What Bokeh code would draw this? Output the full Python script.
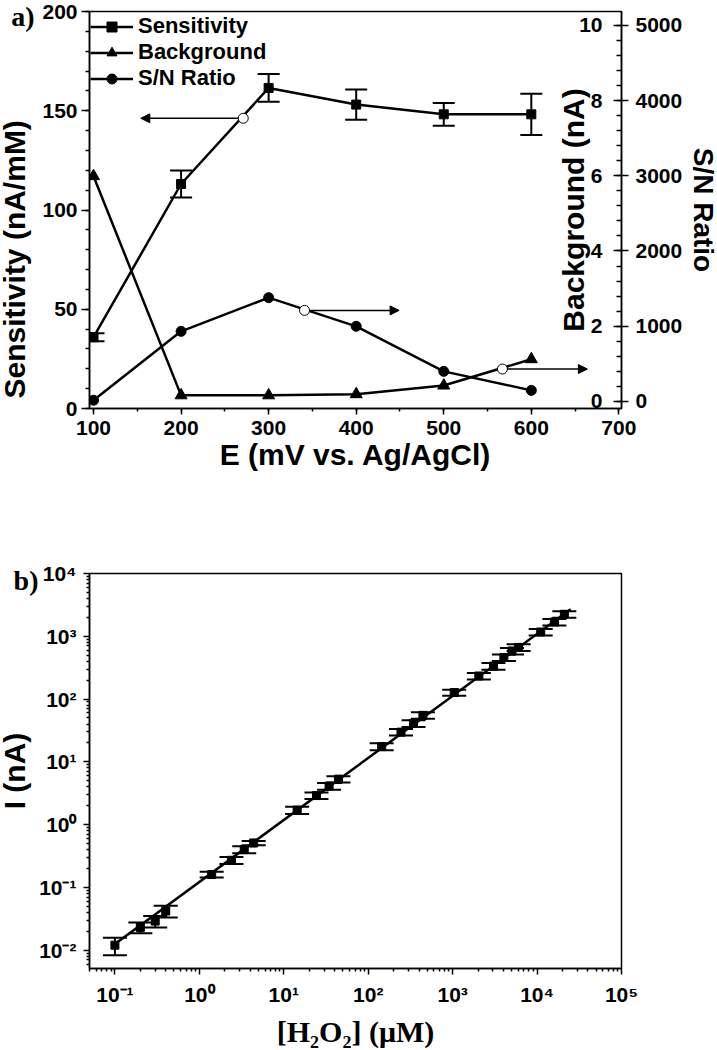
import math
from bokeh.plotting import figure
from bokeh.models import (Range1d, LinearAxis, SingleIntervalTicker, FixedTicker, Whisker, TeeHead,
                          ColumnDataSource, Legend, LegendItem, Arrow, NormalHead, Title,
                          CustomJSTickFormatter)
from bokeh.layouts import column
from bokeh.core.properties import value
from bokeh.embed import file_html
from bokeh.resources import INLINE

# ---------------- Panel a data ----------------
potential = [100, 200, 300, 400, 500, 600]            # mV vs Ag/AgCl
sensitivity = [35.9, 113.1, 161.5, 153.1, 148.2, 148.2]  # nA/mM
sensitivity_err = [2.0, 6.8, 7.0, 7.6, 5.7, 10.4]
background = [5.99, 0.16, 0.16, 0.19, 0.42, 1.12]      # nA
sn_ratio = [15, 931, 1379, 998, 399, 146]

# axis-pointer circles and arrow ends (x of circle, y, x of arrow tip)
sens_pointer = [271, 146.2, 154]
sn_pointer = [341, 1210, 449]
bg_pointer = [567, 0.86, 664]

bg_ticks = [0, 2, 4, 6, 8, 10]

# ---------------- Panel b data ----------------
conc = [0.1, 0.2, 0.3, 0.4, 1.4, 2.4, 3.4, 4.4, 14.4, 24.4, 34.4, 44.4,
        144.4, 244.4, 344.4, 444.4, 1044, 2044, 3044, 4044, 5044, 6044,
        11044, 16044, 21044]                              # uM
current = [0.012, 0.023, 0.029, 0.042, 0.16, 0.27, 0.40, 0.51, 1.7, 2.9, 4.1, 5.3,
           17.5, 29.7, 41, 55, 127, 233, 334, 459, 583, 665, 1170, 1690, 2240]  # nA
current_err = [0.0037, 0.0045, 0.006, 0.009, 0.017, 0.035, 0.05, 0.04, 0.22, 0.35, 0.5, 0.6,
               2.2, 3.5, 5, 6.5, 14, 28, 40, 55, 70, 80, 140, 200, 270]
fit_conc = [0.1, 25000]
fit_current = [0.0125, 2700]

FONT = "Liberation Sans"
SERIF = "Liberation Serif"
BLACK = "#000000"


def style_axis(ax, tick_font="21px"):
    ax.axis_line_width = 1.5
    ax.axis_line_color = BLACK
    ax.major_tick_line_width = 1.5
    ax.minor_tick_line_width = 1.5
    ax.major_tick_line_color = BLACK
    ax.minor_tick_line_color = BLACK
    ax.major_label_text_font = FONT
    ax.major_label_text_font_style = "bold"
    ax.major_label_text_font_size = tick_font
    ax.major_label_text_color = BLACK
    ax.axis_label_text_font = FONT
    ax.axis_label_text_font_style = "bold"
    ax.axis_label_text_font_size = "30px"
    ax.axis_label_text_color = BLACK


def side_title(text, size, font=FONT, **kw):
    return Title(text=text, text_font=font, text_font_style="bold", text_font_size=size,
                 text_color=BLACK, **kw)


def spacer_axis(width, tick):
    # invisible axis (one hidden tick, empty label) used only to leave room between side panels
    return LinearAxis(ticker=FixedTicker(ticks=[tick], minor_ticks=[]),
                      formatter=CustomJSTickFormatter(code='return "";'),
                      axis_line_color=None, major_tick_line_color=None, minor_tick_line_color=None,
                      major_tick_out=width, major_tick_in=0, minor_tick_out=0,
                      major_label_standoff=0)


def panel_tag_axis(text, tick, standoff):
    # invisible axis whose single tick label is the panel tag ("a)" / "b)")
    return LinearAxis(ticker=FixedTicker(ticks=[tick], minor_ticks=[]),
                      formatter=CustomJSTickFormatter(code='return "%s";' % text),
                      axis_line_color=None, major_tick_line_color=None, minor_tick_line_color=None,
                      major_tick_out=0, major_tick_in=0, minor_tick_out=0,
                      major_label_standoff=standoff, major_label_text_font=SERIF,
                      major_label_text_font_style="bold", major_label_text_font_size="28px",
                      major_label_text_color=BLACK)


# =============== Figure a ===============
pa = figure(width=735, height=500, x_range=Range1d(95.4, 703), y_range=Range1d(0, 200),
            output_backend="svg", toolbar_location=None,
            min_border_left=107, min_border_right=96, min_border_top=11, min_border_bottom=92)
pa.extra_y_ranges = {"bg": Range1d(-0.19, 10.37), "sn": Range1d(-95, 5185)}
pa.xgrid.visible = False
pa.ygrid.visible = False
pa.outline_line_color = BLACK
pa.outline_line_width = 1.5
pa.background_fill_color = "white"
pa.border_fill_color = "white"

xa = pa.xaxis[0]
xa.ticker = SingleIntervalTicker(interval=100, num_minor_ticks=2)
style_axis(xa)
xa.major_tick_in = 0
xa.major_tick_out = 6
xa.minor_tick_in = 0
xa.minor_tick_out = 3
xa.major_label_standoff = 6
xa.axis_label = "E (mV vs. Ag/AgCl)"
xa.axis_label_standoff = 0

ya = pa.yaxis[0]
ya.ticker = SingleIntervalTicker(interval=50, num_minor_ticks=5)
style_axis(ya)
ya.major_tick_in = 0
ya.major_tick_out = 8
ya.minor_tick_in = 0
ya.minor_tick_out = 4
ya.major_label_standoff = 4
ya.axis_label = None
pa.add_layout(spacer_axis(7, 100), "left")
pa.add_layout(side_title("Sensitivity (nA/mM)", "30px", align="left", offset=10, standoff=3), "left")
pa.add_layout(panel_tag_axis("a)", 198, -40), "left")

sn_axis = LinearAxis(y_range_name="sn", ticker=SingleIntervalTicker(interval=1000, num_minor_ticks=5))
style_axis(sn_axis)
sn_axis.major_tick_in = 8
sn_axis.major_tick_out = 7
sn_axis.minor_tick_in = 5
sn_axis.minor_tick_out = 0
sn_axis.major_label_standoff = 7
sn_axis.axis_label = None
pa.add_layout(sn_axis, "right")
pa.add_layout(spacer_axis(13, 100), "right")
pa.add_layout(side_title("S/N Ratio", "28px", align="center", standoff=-22), "right")

# Background axis labels drawn inside the frame, next to the right axis
pa.text(x=[pa.x_range.end] * len(bg_ticks), y=bg_ticks, text=[str(t) for t in bg_ticks],
        y_range_name="bg", x_offset=-19, text_align="right", text_baseline="middle",
        text_font=value(FONT), text_font_style="bold", text_font_size="21px", text_color=BLACK)
bg_mid = (pa.extra_y_ranges["bg"].start + pa.extra_y_ranges["bg"].end) / 2
pa.text(x=[pa.x_range.end], y=[bg_mid], text=["Background (nA)"], y_range_name="bg",
        angle=math.pi / 2, x_offset=-48, text_align="center", text_baseline="middle",
        text_font=value(FONT), text_font_style="bold", text_font_size="30px", text_color=BLACK)

# pointer arrows
for ptr, rng in ((sens_pointer, "default"), (sn_pointer, "sn"), (bg_pointer, "bg")):
    pa.add_layout(Arrow(x_start=ptr[0], y_start=ptr[1], x_end=ptr[2], y_end=ptr[1],
                        y_range_name=rng, line_color=BLACK, line_width=1.5, level="underlay",
                        end=NormalHead(size=9, fill_color=BLACK, line_color=BLACK)))

# series
l1 = pa.line(potential, sensitivity, line_width=2.5, line_color=BLACK)
s1 = pa.scatter(potential, sensitivity, marker="square", size=9, fill_color=BLACK, line_color=BLACK)
err_src = ColumnDataSource(dict(
    base=potential,
    upper=[s + e for s, e in zip(sensitivity, sensitivity_err)],
    lower=[s - e for s, e in zip(sensitivity, sensitivity_err)]))
pa.add_layout(Whisker(source=err_src, base="base", upper="upper", lower="lower",
                      line_color=BLACK, line_width=2,
                      upper_head=TeeHead(size=22, line_color=BLACK, line_width=2),
                      lower_head=TeeHead(size=22, line_color=BLACK, line_width=2)))

l2 = pa.line(potential, background, line_width=2.5, line_color=BLACK, y_range_name="bg")
s2 = pa.scatter(potential, background, marker="triangle", size=12, fill_color=BLACK,
                line_color=BLACK, y_range_name="bg")
l3 = pa.line(potential, sn_ratio, line_width=2.5, line_color=BLACK, y_range_name="sn")
s3 = pa.scatter(potential, sn_ratio, marker="circle", size=10, fill_color=BLACK,
                line_color=BLACK, y_range_name="sn")

pa.scatter([sens_pointer[0]], [sens_pointer[1]], marker="circle", size=10,
           fill_color="white", line_color=BLACK, line_width=1)
pa.scatter([sn_pointer[0]], [sn_pointer[1]], marker="circle", size=10,
           fill_color="white", line_color=BLACK, line_width=1, y_range_name="sn")
pa.scatter([bg_pointer[0]], [bg_pointer[1]], marker="circle", size=10,
           fill_color="white", line_color=BLACK, line_width=1, y_range_name="bg")

legend = Legend(items=[LegendItem(label="Sensitivity", renderers=[l1, s1]),
                       LegendItem(label="Background", renderers=[l2, s2]),
                       LegendItem(label="S/N Ratio", renderers=[l3, s3])],
                location=(1, 317), margin=0, padding=0, spacing=0,
                glyph_width=43, glyph_height=25, label_height=25, label_standoff=5,
                label_text_font=FONT, label_text_font_style="bold", label_text_font_size="22px",
                label_text_color=BLACK, border_line_color=None, background_fill_alpha=0)
pa.add_layout(legend)

# =============== Figure b ===============
pb = figure(width=735, height=550, x_axis_type="log", y_axis_type="log",
            x_range=Range1d(0.05, 1e5), y_range=Range1d(0.0051, 1e4),
            output_backend="svg", toolbar_location=None,
            min_border_left=107, min_border_right=95, min_border_top=73, min_border_bottom=81)
pb.xgrid.visible = False
pb.ygrid.visible = False
pb.outline_line_color = BLACK
pb.outline_line_width = 1.5
pb.background_fill_color = "white"
pb.border_fill_color = "white"

sup_fmt = CustomJSTickFormatter(code="""
const sup = {"-": "\\u207B", "0": "\\u2070", "1": "\\u00B9", "2": "\\u00B2", "3": "\\u00B3",
             "4": "\\u2074", "5": "\\u2075", "6": "\\u2076", "7": "\\u2077", "8": "\\u2078", "9": "\\u2079"};
const e = Math.round(Math.log10(tick));
return "10" + String(e).split("").map(c => sup[c]).join("");
""")

x_major = [1e-1, 1e0, 1e1, 1e2, 1e3, 1e4, 1e5]
x_minor = [m * 10.0 ** d for d in range(-2, 5) for m in range(2, 10)]
y_major = [1e-2, 1e-1, 1e0, 1e1, 1e2, 1e3, 1e4]
y_minor = [m * 10.0 ** d for d in range(-3, 4) for m in range(2, 10)]

xb = pb.xaxis[0]
xb.ticker = FixedTicker(ticks=x_major, minor_ticks=x_minor)
xb.formatter = sup_fmt
style_axis(xb)
xb.major_tick_in = 0
xb.major_tick_out = 6
xb.minor_tick_in = 0
xb.minor_tick_out = 3
xb.major_label_standoff = 8
xb.axis_label = "[H\u2082O\u2082] (\u03bcM)"
xb.axis_label_text_font = SERIF
xb.axis_label_standoff = 6

yb = pb.yaxis[0]
yb.ticker = FixedTicker(ticks=y_major, minor_ticks=y_minor)
yb.formatter = sup_fmt
style_axis(yb)
yb.major_tick_in = 0
yb.major_tick_out = 6
yb.minor_tick_in = 0
yb.minor_tick_out = 3
yb.major_label_standoff = 7
yb.axis_label = "I (nA)"
yb.axis_label_standoff = 5
pb.add_layout(panel_tag_axis("b)", 7800, -43), "left")

pb.line(fit_conc, fit_current, line_width=2.5, line_color=BLACK)
err_b = ColumnDataSource(dict(
    base=conc,
    upper=[c + e for c, e in zip(current, current_err)],
    lower=[c - e for c, e in zip(current, current_err)]))
pb.add_layout(Whisker(source=err_b, base="base", upper="upper", lower="lower",
                      line_color=BLACK, line_width=2,
                      upper_head=TeeHead(size=24, line_color=BLACK, line_width=2),
                      lower_head=TeeHead(size=24, line_color=BLACK, line_width=2)))
pb.scatter(conc, current, marker="square", size=8, fill_color=BLACK, line_color=BLACK)

layout = column(pa, pb, spacing=0, margin=(0, 0, 0, -18))
open("out.html", "w", encoding="utf-8").write(file_html(layout, INLINE))
